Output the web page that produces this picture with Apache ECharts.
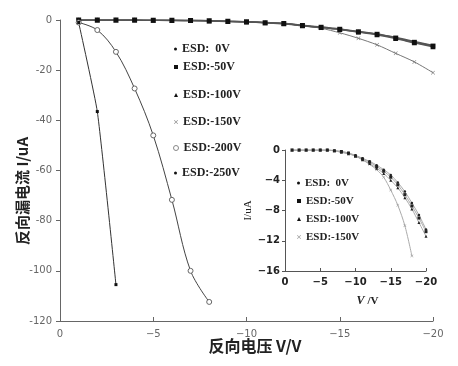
<!DOCTYPE html>
<html>
<head>
<meta charset="utf-8">
<script src="https://cdn.jsdelivr.net/npm/echarts@6/dist/echarts.min.js"></script>
<style>
html,body{margin:0;padding:0;background:#fff;}
#c{width:458px;height:366px;}
</style>
</head>
<body>
<div id="c"></div>
<script>
// ---------- data ----------
const legendNames = ['ESD:  0V', 'ESD:-50V', 'ESD:-100V', 'ESD:-150V', 'ESD:-200V', 'ESD:-250V'];

// main chart
const mainX = [-1,-2,-3,-4,-5,-6,-7,-8,-9,-10,-11,-12,-13,-14,-15,-16,-17,-18,-19,-20];
const main0V   = [0,0,0,0,-0.1,-0.1,-0.2,-0.3,-0.5,-0.7,-1.0,-1.3,-2.1,-2.8,-3.6,-4.6,-5.6,-7.0,-8.6,-10.2];
const main50V  = [0,0,0,0,-0.1,-0.1,-0.2,-0.3,-0.5,-0.7,-1.1,-1.4,-2.2,-2.9,-3.7,-4.7,-5.7,-7.2,-8.9,-10.4];
const main100V = [0,0,0,0,-0.1,-0.2,-0.2,-0.4,-0.6,-0.8,-1.1,-1.5,-2.3,-3.0,-3.8,-4.8,-5.9,-7.4,-9.1,-10.7];
const main150V = [0,0,0,0,-0.1,-0.1,-0.2,-0.3,-0.5,-0.7,-1.1,-1.4,-2.3,-3.3,-5.1,-7.3,-9.9,-13.3,-16.7,-21.0];
const main200X = [-1,-2,-3,-4,-5,-6,-7,-8];
const main200V = [-1,-4,-12.7,-27.3,-46,-71.7,-100,-112.4];
const main250X = [-1,-2,-3];
const main250V = [-1,-36.5,-105.5];

// inset chart
const insetX = [-1,-2,-3,-4,-5,-6,-7,-8,-9,-10,-11,-12,-13,-14,-15,-16,-17,-18,-19,-20];
const inset0V   = [0,0,0,0,0,0,-0.1,-0.2,-0.4,-0.7,-1.1,-1.5,-2.0,-2.6,-3.3,-4.3,-5.5,-7.0,-8.6,-10.5];
const inset50V  = [0,0,0,0,0,0,-0.1,-0.2,-0.4,-0.8,-1.2,-1.6,-2.2,-2.8,-3.6,-4.6,-5.9,-7.4,-9.0,-10.8];
const inset100V = [0,0,0,0,0,0,-0.1,-0.3,-0.5,-0.8,-1.3,-1.8,-2.4,-3.1,-4.0,-5.0,-6.3,-7.8,-9.6,-11.4];
const inset150X = [-1,-2,-3,-4,-5,-6,-7,-8,-9,-10,-11,-12,-13,-14,-15,-16,-17,-18];
const inset150V = [0,0,0,0,0,0,-0.1,-0.3,-0.5,-0.8,-1.3,-1.9,-2.6,-3.6,-5.3,-7.3,-10.0,-14.0];

const mainXTicks = [0,-5,-10,-15,-20];
const mainYTicks = [0,-20,-40,-60,-80,-100,-120];
const insetYTicks = [0,-4,-8,-12,-16];

// ---------- build ----------
const pairs = (xs, ys) => xs.map((x, i) => [x, ys[i]]);
const crossPath = 'path://M0,1L1,0L5,4L9,0L10,1L6,5L10,9L9,10L5,6L1,10L0,9L4,5Z';
const minusFmt = v => String(v).replace('-', '\u2212');

const chart = echarts.init(document.getElementById('c'), null, {renderer: 'canvas'});

function mkLegend(name, left, centerY, icon, size, itemStyle, fontSize) {
  return {
    left: left, top: centerY - 7, padding: 0, data: [name],
    icon: icon, itemWidth: size, itemHeight: size, itemStyle: itemStyle,
    selectedMode: false,
    textStyle: {fontFamily: 'Liberation Serif', fontWeight: 'bold', fontSize: fontSize, color: '#222', lineHeight: 14}
  };
}

const blk = {color: '#111'};
const option = {
  animation: false,
  backgroundColor: '#fff',
  grid: [
    {left: 60, right: 25, top: 20, bottom: 45},
    {left: 285, top: 150, width: 141, height: 121}
  ],
  xAxis: [
    {
      gridIndex: 0, type: 'value', inverse: true, min: mainXTicks[4], max: mainXTicks[0], interval: 5,
      axisLine: {show: true, onZero: false, lineStyle: {color: '#666', width: 1}},
      axisTick: {show: true, inside: true, length: 4, lineStyle: {color: '#666'}},
      axisLabel: {formatter: minusFmt, color: '#666', fontSize: 10, fontFamily: 'DejaVu Sans', margin: 8},
      splitLine: {show: false}
    },
    {
      gridIndex: 1, type: 'value', inverse: true, min: -20, max: 0, interval: 5,
      axisLine: {show: true, onZero: false, lineStyle: {color: '#555', width: 1}},
      axisTick: {show: true, inside: true, length: 3, lineStyle: {color: '#555'}},
      axisLabel: {formatter: minusFmt, color: '#222', fontSize: 10, fontWeight: 'bold', fontFamily: 'DejaVu Sans', margin: 6},
      splitLine: {show: false},
      name: '{i|V} /V', nameLocation: 'middle', nameGap: 24,
      nameTextStyle: {fontSize: 11, color: '#222', fontFamily: 'Liberation Serif', fontWeight: 'bold', padding: [0,0,0,24],
        rich: {i: {fontStyle: 'italic', fontSize: 12, fontWeight: 'bold', fontFamily: 'Liberation Serif', color: '#222'}}}
    }
  ],
  yAxis: [
    {
      gridIndex: 0, type: 'value', min: mainYTicks[6], max: mainYTicks[0], interval: 20,
      axisLine: {show: true, onZero: false, lineStyle: {color: '#666', width: 1}},
      axisTick: {show: true, inside: false, length: 4, lineStyle: {color: '#666'}},
      axisLabel: {color: '#666', fontSize: 10, fontFamily: 'DejaVu Sans', margin: 8},
      splitLine: {show: false}
    },
    {
      gridIndex: 1, type: 'value', min: insetYTicks[4], max: insetYTicks[0], interval: 4,
      axisLine: {show: true, onZero: false, lineStyle: {color: '#555', width: 1}},
      axisTick: {show: true, inside: false, length: 3, lineStyle: {color: '#555'}},
      axisLabel: {formatter: minusFmt, color: '#222', fontSize: 10, fontWeight: 'bold', fontFamily: 'DejaVu Sans', margin: 5},
      splitLine: {show: false},
      name: 'I/uA', nameLocation: 'middle', nameGap: 20, nameRotate: 90,
      nameTextStyle: {fontSize: 11, color: '#222', fontFamily: 'Liberation Serif'}
    }
  ],
  legend: [
    mkLegend(legendNames[0], 174, 49, 'circle', 3, blk, 12),
    mkLegend(legendNames[1], 174, 67, 'rect', 4, blk, 12),
    mkLegend(legendNames[2], 174, 95, 'triangle', 4, blk, 12),
    mkLegend(legendNames[3], 174, 122, crossPath, 4, {color: '#888'}, 12),
    mkLegend(legendNames[4], 173, 148, 'circle', 5, {color: '#fff', borderColor: '#888', borderWidth: 1}, 12),
    mkLegend(legendNames[5], 174, 173, 'circle', 3, blk, 12),
    mkLegend(legendNames[0], 297, 183, 'circle', 3, blk, 11),
    mkLegend(legendNames[1], 297, 201, 'rect', 4, blk, 11),
    mkLegend(legendNames[2], 297, 219, 'triangle', 4, blk, 11),
    mkLegend(legendNames[3], 297, 237, crossPath, 4, {color: '#999'}, 11)
  ],
  graphic: [
    {type: 'text', x: 22, y: 191, rotation: Math.PI / 2,
      style: {text: '反向漏电流 I/uA', fontSize: 15, fontWeight: 'bold', fontFamily: 'Noto Sans CJK SC',
        fill: '#222', align: 'center', verticalAlign: 'middle'}},
    {type: 'text', x: 255, y: 346,
      style: {text: '反向电压 V/V', fontSize: 16, fontWeight: 'bold', fontFamily: 'Noto Sans CJK SC',
        fill: '#222', align: 'center', verticalAlign: 'middle'}}
  ],
  series: [
    // main chart
    {name: legendNames[3], type: 'line', xAxisIndex: 0, yAxisIndex: 0, data: pairs(mainX, main150V),
      smooth: 0.3, symbol: crossPath, symbolSize: 4, lineStyle: {color: '#777', width: 1}, itemStyle: {color: '#777'}},
    {name: legendNames[0], type: 'line', xAxisIndex: 0, yAxisIndex: 0, data: pairs(mainX, main0V),
      smooth: 0.3, symbol: 'circle', symbolSize: 3, lineStyle: {color: '#555', width: 1.5}, itemStyle: {color: '#111'}},
    {name: legendNames[1], type: 'line', xAxisIndex: 0, yAxisIndex: 0, data: pairs(mainX, main50V),
      smooth: 0.3, symbol: 'rect', symbolSize: 5, lineStyle: {color: '#555', width: 1.5}, itemStyle: {color: '#111'}},
    {name: legendNames[2], type: 'line', xAxisIndex: 0, yAxisIndex: 0, data: pairs(mainX, main100V),
      smooth: 0.3, symbol: 'triangle', symbolSize: 5, lineStyle: {color: '#555', width: 1.5}, itemStyle: {color: '#111'}},
    {name: legendNames[4], type: 'line', xAxisIndex: 0, yAxisIndex: 0, data: pairs(main200X, main200V),
      smooth: 0.35, symbol: 'circle', symbolSize: 5, lineStyle: {color: '#444', width: 1},
      itemStyle: {color: '#fff', borderColor: '#666', borderWidth: 1}},
    {name: legendNames[5], type: 'line', xAxisIndex: 0, yAxisIndex: 0, data: pairs(main250X, main250V),
      smooth: 0.15, symbol: 'rect', symbolSize: 3, lineStyle: {color: '#333', width: 1}, itemStyle: {color: '#111'}},
    // inset chart
    {name: legendNames[3], type: 'line', xAxisIndex: 1, yAxisIndex: 1, data: pairs(inset150X, inset150V),
      smooth: 0.3, symbol: crossPath, symbolSize: 3, lineStyle: {color: '#aaa', width: 1}, itemStyle: {color: '#999'}},
    {name: legendNames[0], type: 'line', xAxisIndex: 1, yAxisIndex: 1, data: pairs(insetX, inset0V),
      smooth: 0.3, symbol: 'circle', symbolSize: 2.5, lineStyle: {color: '#aaa', width: 1}, itemStyle: {color: '#222'}},
    {name: legendNames[1], type: 'line', xAxisIndex: 1, yAxisIndex: 1, data: pairs(insetX, inset50V),
      smooth: 0.3, symbol: 'rect', symbolSize: 3, lineStyle: {color: '#aaa', width: 1}, itemStyle: {color: '#222'}},
    {name: legendNames[2], type: 'line', xAxisIndex: 1, yAxisIndex: 1, data: pairs(insetX, inset100V),
      smooth: 0.3, symbol: 'triangle', symbolSize: 3, lineStyle: {color: '#aaa', width: 1}, itemStyle: {color: '#222'}}
  ]
};
chart.setOption(option);
</script>
</body>
</html>
